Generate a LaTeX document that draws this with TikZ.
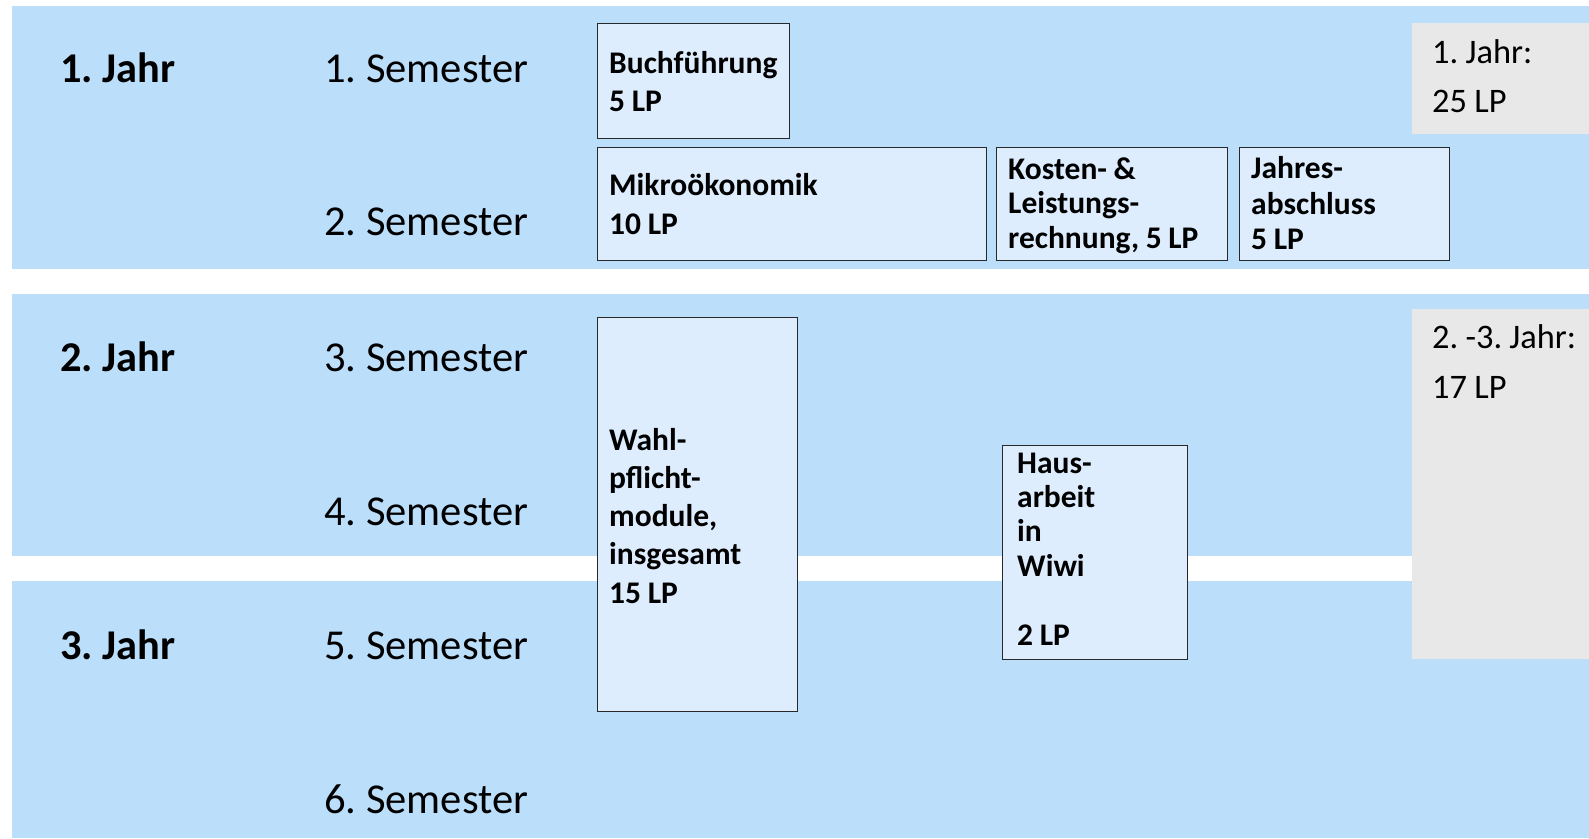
\documentclass[tikz,border=0pt]{standalone}
\usepackage{fontspec}
\setmainfont{Carlito}
\frenchspacing
\newcommand\tightwords{\spaceskip=0.21em\relax}
\definecolor{band}{RGB}{187,222,251}
\definecolor{boxfill}{RGB}{221,237,253}
\definecolor{graybox}{RGB}{232,232,232}
\definecolor{boxline}{RGB}{40,40,40}
\begin{document}
\begin{tikzpicture}[x=1pt,y=-1pt,
  yearlbl/.style={font=\fontsize{42.4}{50}\selectfont\bfseries, inner sep=0pt, anchor=base west},
  semlbl/.style={font=\fontsize{42.6}{50}\selectfont, inner sep=0pt, anchor=base west},
  modbox/.style={draw=boxline, line width=1.3pt, fill=boxfill, inner sep=0pt, anchor=north west},
  modtext/.style={font=\fontsize{31.5}{#1}\selectfont\bfseries, inner sep=0pt, align=left, text width=300pt, anchor=base west},
  sumbox/.style={fill=graybox, inner sep=0pt, anchor=north west},
  sumtext/.style={font=\fontsize{34.4}{#1}\selectfont, inner sep=0pt, align=left, text width=170pt, anchor=base west}
]
\useasboundingbox (0,0) rectangle (1589,838);
\fill[white] (0,0) rectangle (1589,838);
% bands
\fill[band] (12,6) rectangle (1589,269);
\fill[band] (12,294) rectangle (1589,556);
\fill[band] (12,581) rectangle (1589,838);
% summary boxes
\node[sumbox, minimum width=177pt, minimum height=111pt] (sum1) at (1412,23) {};
\node[sumbox, minimum width=177pt, minimum height=350pt] (sum2) at (1412,309) {};
\node[sumtext=49pt] (sum1t) at (1432,63) {\tightwords 1. Jahr:\\25 LP};
\node[sumtext=49.5pt] (sum2t) at (1432,348.5) {\tightwords 2. -3. Jahr:\\17 LP};
% year labels
\node[yearlbl] (j1) at (60,82) {1. Jahr};
\node[yearlbl] (j2) at (60,371.5) {2. Jahr};
\node[yearlbl] (j3) at (60,659.5) {3. Jahr};
% semester labels
\node[semlbl] (s1) at (324,82) {1. Semester};
\node[semlbl] (s2) at (324,235) {2. Semester};
\node[semlbl] (s3) at (324,371.5) {3. Semester};
\node[semlbl] (s4) at (324,525.5) {4. Semester};
\node[semlbl] (s5) at (324,659.5) {5. Semester};
\node[semlbl] (s6) at (324,813.5) {6. Semester};
% module boxes
\node[modbox, minimum width=192pt, minimum height=115pt] (buch) at (597,23) {};
\node[modtext=38.5pt] (bucht) at (609,73) {\tightwords Buchführung\\5 LP};
\node[modbox, minimum width=389pt, minimum height=113pt] (mikro) at (597,147) {};
\node[modtext=38.5pt] (mikrot) at (609,195.5) {\tightwords Mikroökonomik\\10 LP};
\node[modbox, minimum width=231pt, minimum height=113pt] (kosten) at (996,147) {};
\node[modtext=34.5pt] (kostent) at (1008,179) {\tightwords Kosten- \&\\Leistungs-\\rechnung, 5 LP};
\node[modbox, minimum width=210pt, minimum height=113pt] (jahres) at (1239,147) {};
\node[modtext=35.5pt] (jahrest) at (1251,178.5) {\tightwords Jahres-\\abschluss\\5 LP};
\node[modbox, minimum width=200pt, minimum height=394pt] (wahl) at (597,317) {};
\node[modtext=38.3pt] (wahlt) at (609,450) {\tightwords Wahl-\\pflicht-\\module,\\insgesamt\\15 LP};
\node[modbox, minimum width=185pt, minimum height=214pt] (haus) at (1002,445) {};
\node[modtext=34.4pt] (haust) at (1017,473) {\tightwords Haus-\\arbeit\\in\\Wiwi\\[34.4pt]2 LP};
\end{tikzpicture}
\end{document}
